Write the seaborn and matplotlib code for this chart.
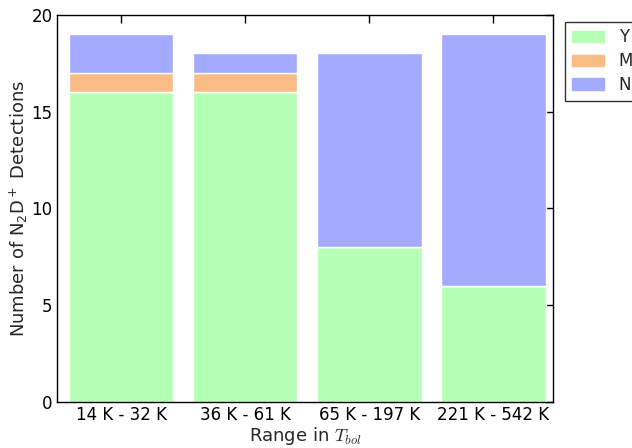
import matplotlib
matplotlib.use("Agg")
import matplotlib.pyplot as plt
import matplotlib.patches as mpatches
import seaborn as sns
import pandas as pd
import numpy as np

# Detection counts per T_bol range
ranges = ["14 K - 32 K", "36 K - 61 K", "65 K - 197 K", "221 K - 542 K"]
det_yes = [16, 16, 8, 6]
det_maybe = [1, 1, 0, 0]
det_no = [2, 1, 10, 13]

colors = {"Y": "#b6ffb6", "M": "#f9bc87", "N": "#a4aaff"}

sns.set_style("white")
plt.rcParams["font.family"] = ["DejaVu Sans"]

fig = plt.figure(figsize=(6.32, 4.48), dpi=100)
ax = fig.add_axes([0.09, 0.103, 0.785, 0.864])

df = pd.DataFrame({"range": ranges, "Y": det_yes, "M": det_maybe, "N": det_no})
bottom = np.zeros(len(ranges))
for key in ["Y", "M", "N"]:
    sns.barplot(data=df, x="range", y=key, color=colors[key], width=0.84,
                bottom=bottom, edgecolor="white", linewidth=1, saturation=1, ax=ax)
    bottom = bottom + df[key].values

ax.set_xlim(-0.52, 3.48)
ax.set_ylim(0, 20)
ax.set_yticks([0, 5, 10, 15, 20])
ax.tick_params(direction="in", length=6, width=1, top=True, right=True,
               labelsize=12, colors="black", pad=3)
for s in ax.spines.values():
    s.set_color("black")
    s.set_linewidth(1)

ax.set_xlabel("Range in $T_{bol}$", fontsize=13, math_fontfamily="cm", labelpad=1)
ax.set_ylabel("Number of N$_2$D$^+$ Detections", fontsize=13, labelpad=1)

handles = [mpatches.Patch(color=colors[k], label=k) for k in ["Y", "M", "N"]]
leg = ax.legend(handles=handles, loc="upper left", bbox_to_anchor=(1.025, 0.982),
                fontsize=12, frameon=True, fancybox=False, handlelength=1.9,
                handleheight=0.7, handletextpad=0.9, borderaxespad=0,
                labelspacing=0.35)
leg.get_frame().set_edgecolor("black")
leg.get_frame().set_linewidth(1)

fig.savefig("out.png", dpi=100)
